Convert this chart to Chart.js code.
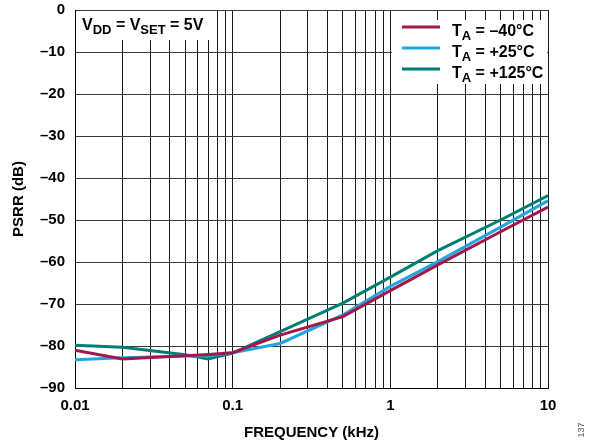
<!DOCTYPE html>
<html>
<head>
<meta charset="utf-8">
<script src="https://cdn.jsdelivr.net/npm/chart.js@4"></script>
<style>
  html, body { margin: 0; padding: 0; background: #fff; }
  #wrap { width: 591px; height: 446px; position: relative; }
</style>
</head>
<body>
<div id="wrap"><canvas id="psrr"></canvas></div>
<script>
const freqKHz = [0.01, 0.02, 0.05, 0.07, 0.1, 0.2, 0.5, 1, 2, 5, 10];
const psrrMinus40 = [-81.0, -83.1, -82.3, -82.0, -81.6, -77.4, -73.0, -66.8, -60.7, -52.8, -46.9];
const psrrPlus25 = [-83.3, -82.8, -82.4, -82.3, -81.6, -79.4, -72.6, -65.8, -59.9, -51.7, -45.4];
const psrrPlus125 = [-79.8, -80.3, -82.1, -83.1, -81.7, -76.6, -69.8, -63.6, -57.3, -50.0, -44.2];
const seriesNames = ["–40°C", "+25°C", "+125°C"];
const seriesColors = ["#A3174D", "#1FA6E0", "#007D74"];
const yTicks = [0, -10, -20, -30, -40, -50, -60, -70, -80, -90];

const FONT = "'Liberation Sans', Arial, sans-serif";

function pts(ys) {
  return freqKHz.map((f, i) => ({ x: f, y: ys[i] }));
}

// white boxes with the condition note and legend, like the datasheet figure
const overlay = {
  id: "overlay",
  afterDatasetsDraw(chart) {
    const ctx = chart.ctx;
    const a = chart.chartArea;
    ctx.save();
    ctx.fillStyle = "#fff";
    ctx.fillRect(a.left + 1, a.top + 1, 138, 29);
    ctx.fillRect(392, 20, a.right - 392 - 1, 64);

    ctx.fillStyle = "#000";
    ctx.textBaseline = "alphabetic";
    let x = 82, y = 30;
    const big = "bold 16px " + FONT, small = "bold 13px " + FONT;
    function put(t, f, dy) {
      ctx.font = f;
      ctx.fillText(t, x, y + (dy || 0));
      x += ctx.measureText(t).width;
    }
    put("V", big); put("DD", small, 4); put(" = V", big); put("SET", small, 4); put(" = 5V", big);

    seriesNames.forEach((name, i) => {
      const ly = 27 + i * 21;
      ctx.strokeStyle = seriesColors[i];
      ctx.lineWidth = 3;
      ctx.beginPath();
      ctx.moveTo(402, ly);
      ctx.lineTo(440, ly);
      ctx.stroke();
      x = 452; y = ly + 8.5;
      put("T", big); put("A", small, 4); put(" = " + name, big);
    });
    ctx.restore();
  }
};

new Chart(document.getElementById("psrr"), {
  type: "line",
  data: {
    datasets: [
      { label: "TA = " + seriesNames[0], data: pts(psrrMinus40), borderColor: seriesColors[0] },
      { label: "TA = " + seriesNames[1], data: pts(psrrPlus25), borderColor: seriesColors[1] },
      { label: "TA = " + seriesNames[2], data: pts(psrrPlus125), borderColor: seriesColors[2] }
    ]
  },
  options: {
    responsive: true,
    maintainAspectRatio: false,
    animation: false,
    elements: {
      line: { borderWidth: 3, tension: 0, fill: false },
      point: { radius: 0 }
    },
    layout: { padding: { left: 0, right: 43, top: 10, bottom: 0 } },
    plugins: { legend: { display: false }, tooltip: { enabled: false } },
    scales: {
      x: {
        type: "logarithmic",
        min: 0.01,
        max: 10,
        afterFit: s => { s.height = 58; s.paddingLeft = 0; s.paddingRight = 0; },
        afterBuildTicks: s => {
          const t = [];
          [0.01, 0.1, 1].forEach(d => {
            for (let k = 1; k < 10; k++) t.push({ value: +(d * k).toPrecision(3) });
          });
          t.push({ value: 10 });
          s.ticks = t;
        },
        ticks: {
          autoSkip: false,
          maxRotation: 0,
          padding: 9,
          color: "#000",
          font: { family: FONT, size: 15, weight: "bold" },
          callback: v => ([0.01, 0.1, 1, 10].includes(v) ? String(v) : "")
        },
        grid: { color: "#1a1a1a", lineWidth: 1, drawTicks: false },
        border: { color: "#000", width: 1 },
        title: {
          display: true,
          text: "FREQUENCY (kHz)",
          color: "#000",
          font: { family: FONT, size: 15, weight: "bold" },
          padding: { top: 0, bottom: 4 }
        }
      },
      y: {
        min: -90,
        max: 0,
        afterFit: s => { s.width = 75; s.paddingTop = 0; s.paddingBottom = 0; },
        afterBuildTicks: s => { s.ticks = yTicks.map(v => ({ value: v })); },
        ticks: {
          padding: 10,
          color: "#000",
          font: { family: FONT, size: 15, weight: "bold" },
          callback: v => (v === 0 ? "0" : "–" + Math.abs(v))
        },
        grid: { color: "#3a3a3a", lineWidth: 1, drawTicks: false },
        border: { color: "#000", width: 1 },
        title: {
          display: true,
          text: "PSRR (dB)",
          color: "#000",
          font: { family: FONT, size: 15, weight: "bold" },
          padding: { top: 10, bottom: 0 }
        }
      }
    }
  },
  plugins: [overlay, {
    id: "figno",
    afterDraw(chart) {
      const ctx = chart.ctx;
      ctx.save();
      ctx.translate(582, 430);
      ctx.rotate(-Math.PI / 2);
      ctx.font = "9px " + FONT;
      ctx.fillStyle = "#555";
      ctx.textAlign = "center";
      ctx.textBaseline = "middle";
      ctx.fillText("137", 0, 0);
      ctx.restore();
    }
  }]
});
</script>
</body>
</html>
